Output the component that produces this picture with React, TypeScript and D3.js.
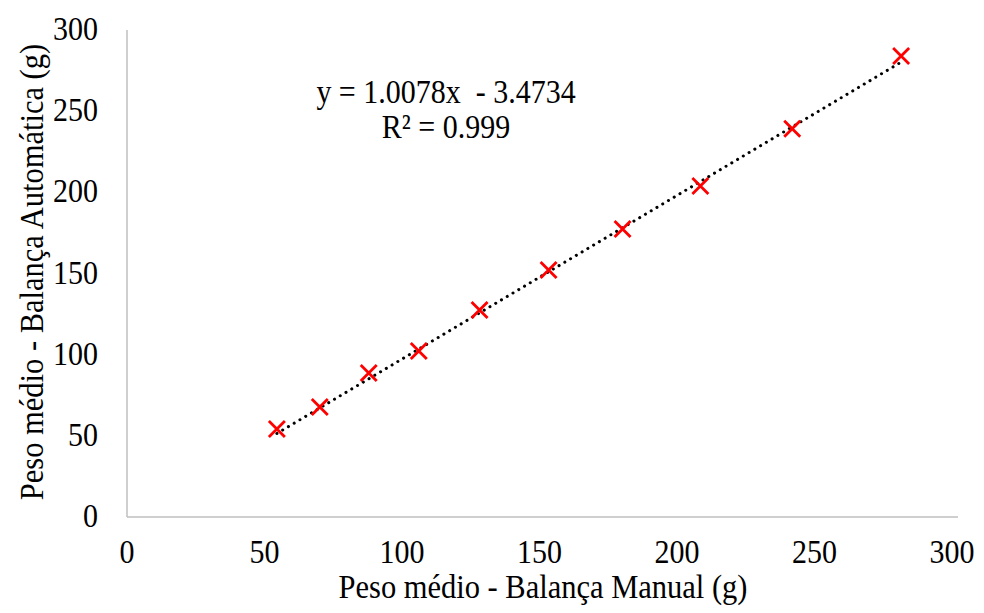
import React, { useRef, useEffect } from "react";
import * as d3 from "d3";

// values
const manual = [54.5, 70.1, 87.9, 106.1, 128.2, 153.3, 180.2, 208.5, 241.9, 281.5];
const automatica = [54.2, 67.8, 88.7, 102.3, 127.5, 152.2, 177.4, 203.9, 239.1, 284.0];
const ticks = [0, 50, 100, 150, 200, 250, 300];
const slope = 1.0078;
const intercept = -3.4734;
const equation = "y = 1.0078x  - 3.4734";
const rSquared = "R² = 0.999";

const App = () => {
  const ref = useRef<SVGSVGElement>(null);

  useEffect(() => {
    const svg = d3.select(ref.current);
    svg.selectAll("*").remove();

    const width = 984;
    const height = 613;
    const font = "Liberation Serif, Times New Roman, serif";
    const fs = 30;
    const stretch = 1.1; // reference text is a bit tall

    const x = d3.scaleLinear().domain([0, 300]).range([127, 952]);
    const y = d3.scaleLinear().domain([0, 300]).range([517, 30]);

    const label = (
      px: number,
      py: number,
      txt: string,
      anchor: string,
      size = fs,
      rotate = 0
    ) =>
      svg
        .append("text")
        .attr("transform", `translate(${px},${py}) rotate(${rotate}) scale(1,${stretch})`)
        .attr("text-anchor", anchor)
        .attr("font-family", font)
        .attr("font-size", size)
        .attr("fill", "#000")
        .style("white-space", "pre")
        .text(txt);

    // axis lines
    svg
      .append("line")
      .attr("x1", x(0))
      .attr("x2", 958)
      .attr("y1", y(0))
      .attr("y2", y(0))
      .attr("stroke", "#bfbfbf")
      .attr("stroke-width", 1.5);
    svg
      .append("line")
      .attr("x1", x(0))
      .attr("x2", x(0))
      .attr("y1", y(0))
      .attr("y2", y(300))
      .attr("stroke", "#bfbfbf")
      .attr("stroke-width", 1.5);

    // tick labels
    ticks.forEach((t) => {
      label(x(t), 563, String(t), "middle");
      label(98, y(t) + 10, String(t), "end");
    });

    // trendline
    const xMin = d3.min(manual) as number;
    const xMax = d3.max(manual) as number;
    svg
      .append("line")
      .attr("x1", x(xMin))
      .attr("y1", y(slope * xMin + intercept))
      .attr("x2", x(xMax))
      .attr("y2", y(slope * xMax + intercept))
      .attr("stroke", "#000")
      .attr("stroke-width", 3)
      .attr("stroke-linecap", "round")
      .attr("stroke-dasharray", "0.1 6.6");

    // markers
    const s = 8;
    const pts = manual.map((m, i) => [m, automatica[i]]);
    svg
      .append("g")
      .attr("stroke", "#ff0000")
      .attr("stroke-width", 2.8)
      .selectAll("path")
      .data(pts)
      .join("path")
      .attr("fill", "none")
      .attr(
        "d",
        (d) =>
          `M${x(d[0]) - s},${y(d[1]) - s}L${x(d[0]) + s},${y(d[1]) + s}M${x(d[0]) - s},${y(d[1]) + s}L${x(d[0]) + s},${y(d[1]) - s}`
      );

    // equation
    label(446, 103, equation, "middle");
    label(446, 138, rSquared, "middle");

    // axis titles
    label(543, 598, "Peso médio - Balança Manual (g)", "middle", 30.5);
    label(43, 272, "Peso médio - Balança Automática (g)", "middle", 30.5, -90);

    svg.attr("width", width).attr("height", height);
  }, []);

  return (
    <svg
      ref={ref}
      style={{ position: "absolute", left: 0, top: 0, background: "#fff" }}
    ></svg>
  );
};

export default App;
